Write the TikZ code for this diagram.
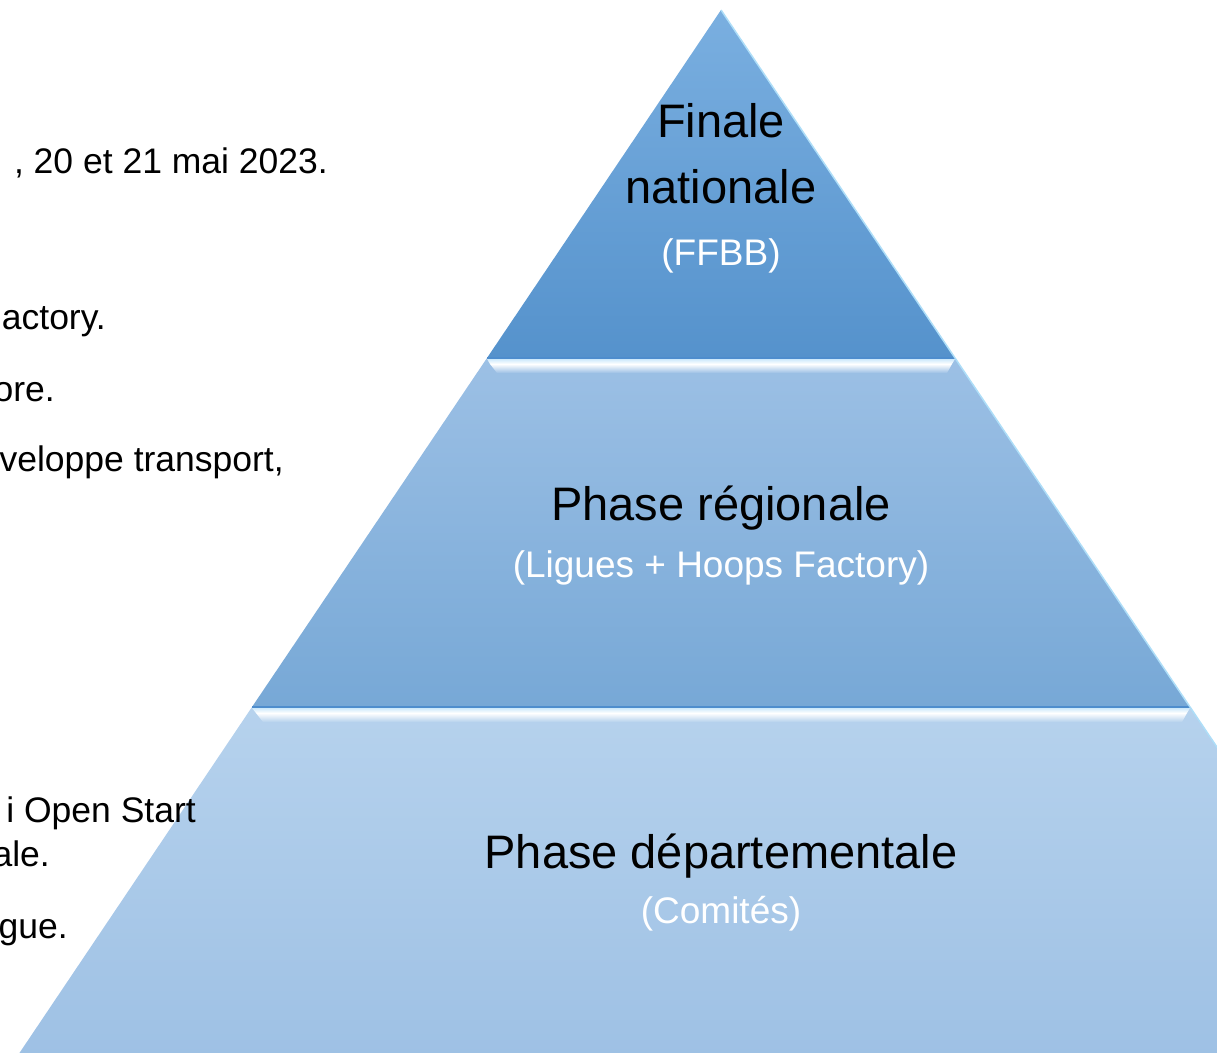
\documentclass[tikz,border=0pt]{standalone}
\usepackage{fontspec}
\setmainfont{Liberation Sans}
\usepackage{tikz}

\definecolor{natA}{HTML}{7AAFE0}
\definecolor{natB}{HTML}{5592CC}
\definecolor{regA}{HTML}{9CC0E5}
\definecolor{regB}{HTML}{77A8D6}
\definecolor{depA}{HTML}{B6D2ED}
\definecolor{depB}{HTML}{9DC0E4}
\definecolor{seamblue}{HTML}{4E8DCD}
\definecolor{rimblue}{HTML}{AEDEF8}
\definecolor{glossblue}{HTML}{CDE9FB}

\begin{document}
\begin{tikzpicture}[
        x=1pt, y=-1pt,
        tiername/.style={anchor=base,inner sep=0pt,font=\fontsize{47}{52}\selectfont},
        tierowner/.style={anchor=base,inner sep=0pt,text=white,font=\fontsize{37}{42}\selectfont},
        cutnote/.style={anchor=base east,inner sep=0pt,font=\fontsize{35.5}{42}\selectfont},
        seam/.style={draw=seamblue,line width=1.5pt},
        rim/.style={draw=rimblue,line width=1.5pt}
    ]
        \useasboundingbox (0,0) rectangle (1217,1052);
        \clip (0,0) rectangle (1217,1052);

        \coordinate (apex) at (721,10);
        \coordinate (natL) at (487,358);
        \coordinate (natR) at (955,358);
        \coordinate (regL) at (252,707);
        \coordinate (regR) at (1190,707);
        \coordinate (depL) at (8,1070);
        \coordinate (depR) at (1434,1070);

        % tiers
        \shade [top color=natA,bottom color=natB] (apex) -- (natR) -- (natL) -- cycle;
        \shade [top color=regA,bottom color=regB] (natL) -- (natR) -- (regR) -- (regL) -- cycle;
        \shade [top color=depA,bottom color=depB] (regL) -- (regR) -- (depR) -- (depL) -- cycle;

        % bevels
        \shade [top color=glossblue,bottom color=white]
            (487,359) -- (955,359) -- (952,364) -- (490,364) -- cycle;
        \shade [top color=white,bottom color=regA]
            (490,364) -- (952,364) -- (947,373) -- (497,373) -- cycle;
        \shade [top color=glossblue,bottom color=white]
            (252,708) -- (1190,708) -- (1187,713) -- (256,713) -- cycle;
        \shade [top color=white,bottom color=depA]
            (256,713) -- (1187,713) -- (1182,722) -- (263,722) -- cycle;
        \draw [seam] (natL) -- (natR);
        \draw [seam] (regL) -- (regR);
        \draw [rim] (apex) -- (natR) -- (regR) -- (depR);

        \node [tiername] (finale) at (721,137) {Finale};
        \node [tiername] (nationale) at (721,203) {nationale};
        \node [tierowner] (ffbb) at (721,265) {(FFBB)};
        \node [tiername] (regionale) at (721,520) {Phase régionale};
        \node [tierowner] (ligues) at (721,577) {(Ligues + Hoops Factory)};
        \node [tiername] (departementale) at (721,868) {Phase départementale};
        \node [tierowner] (comites) at (721,923) {(Comités)};

        \node [cutnote] (dates) at (328,173) {, 20 et 21 mai 2023.};
        \node [cutnote] (factory) at (106,329) {actory.};
        \node [cutnote] (ore) at (55,401) {ore.};
        \node [cutnote] (transport) at (284,471) {veloppe transport,};
        \node [cutnote] (openstart) at (196,822) {i Open Start};
        \node [cutnote] (ale) at (50,866) {ale.};
        \node [cutnote] (gue) at (68,938) {gue.};
    \end{tikzpicture}
\end{document}
